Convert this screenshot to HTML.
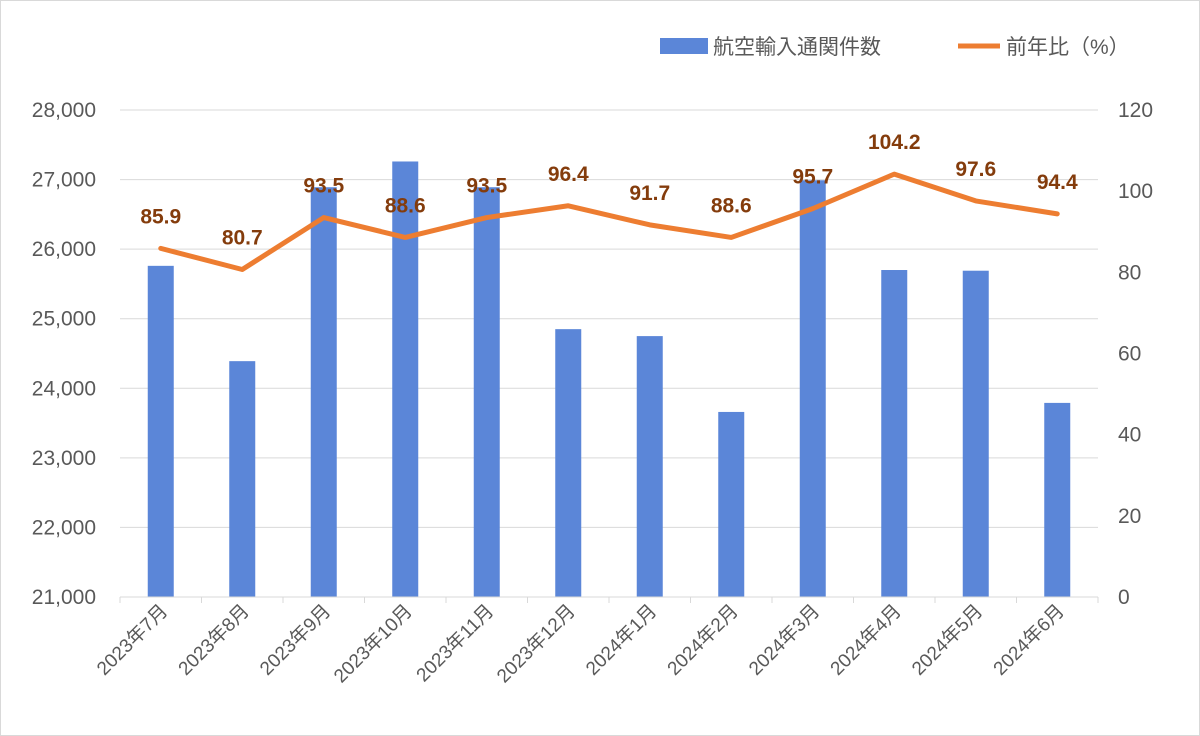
<!DOCTYPE html>
<html><head><meta charset="utf-8"><style>
body{margin:0;background:#fff}
svg{display:block;font-family:"Liberation Sans","Noto Sans CJK JP",sans-serif}
</style></head><body>
<svg id="chart" width="1200" height="736">
<rect x="0.5" y="0.5" width="1199" height="735" fill="#fff" stroke="#d9d9d9"/>
<g id="grid"></g><g id="bars"></g><g id="line"></g><g id="axes"></g>
<g>
<rect x="660" y="38" width="48" height="16" fill="#5b86d8"/>
<text x="713" y="54" font-size="21" fill="#595959">航空輸入通関件数</text>
<line x1="958" y1="46" x2="1000" y2="46" stroke="#ed7d31" stroke-width="5"/>
<text x="1006" y="54" font-size="21" fill="#595959">前年比（%）</text>
</g>
</svg>
<script>
const categories=["2023年7月","2023年8月","2023年9月","2023年10月","2023年11月","2023年12月","2024年1月","2024年2月","2024年3月","2024年4月","2024年5月","2024年6月"];
const counts=[25760,24390,26890,27260,26890,24850,24750,23660,26990,25700,25690,23790];
const ratios=[85.9,80.7,93.5,88.6,93.5,96.4,91.7,88.6,95.7,104.2,97.6,94.4];
const leftTicks=[21000,22000,23000,24000,25000,26000,27000,28000];
const rightTicks=[0,20,40,60,80,100,120];
const NS="http://www.w3.org/2000/svg";
const X0=120,X1=1098,Y0=597,Y1=110;
const band=(X1-X0)/categories.length;
const xc=i=>X0+band*(i+0.5);
const yl=v=>Y0-(v-21000)/7000*(Y0-Y1);
const yr=v=>Y0-v/120*(Y0-Y1);
function mk(tag,attrs,parent,txt){const e=document.createElementNS(NS,tag);for(const k in attrs)e.setAttribute(k,attrs[k]);if(txt!==undefined)e.textContent=txt;document.getElementById(parent).appendChild(e);return e;}
leftTicks.forEach(v=>{
 if(v>21000){const g=mk('line',{x1:X0,x2:X1,y1:yl(v),y2:yl(v),stroke:'#d9d9d9','stroke-width':1},'grid');
 
 }
 const t=mk('text',{x:96,y:yl(v)+7,'text-anchor':'end','font-size':21,fill:'#595959'},'axes',v.toLocaleString('en-US'));
 
 
});
rightTicks.forEach(v=>{
 const t=mk('text',{x:1118,y:yr(v)+7,'font-size':21,fill:'#595959'},'axes',String(v));
 
 
});
const ax=mk('line',{x1:X0,x2:X1,y1:Y0,y2:Y0,stroke:'#d9d9d9','stroke-width':1},'axes');


for(let i=0;i<=categories.length;i++){
 const tk=mk('line',{x1:X0+band*i,x2:X0+band*i,y1:Y0,y2:Y0+6,stroke:'#d9d9d9'},'axes');
 
 
}
categories.forEach((c,i)=>{
 const b=mk('rect',{x:xc(i)-13,y:yl(counts[i]),width:26,height:Y0-yl(counts[i]),fill:'#5b86d8'},'bars');
 
 
 const x=xc(i)+8,y=612;
 const t=mk('text',{x:x,y:y,'text-anchor':'end','font-size':19,fill:'#595959',transform:`rotate(-45 ${x} ${y})`},'axes',c);
 
 
});
const pts=ratios.map((v,i)=>xc(i)+','+yr(v)).join(' ');
const pl=mk('polyline',{points:pts,fill:'none',stroke:'#ed7d31','stroke-width':5,'stroke-linejoin':'round','stroke-linecap':'round'},'line');


ratios.forEach((v,i)=>{
 const t=mk('text',{x:xc(i),y:yr(v)-25,'text-anchor':'middle','font-size':21,'font-weight':'bold',fill:'#843c0c'},'line',v.toFixed(1));
 
 
});
</script>
</body></html>
